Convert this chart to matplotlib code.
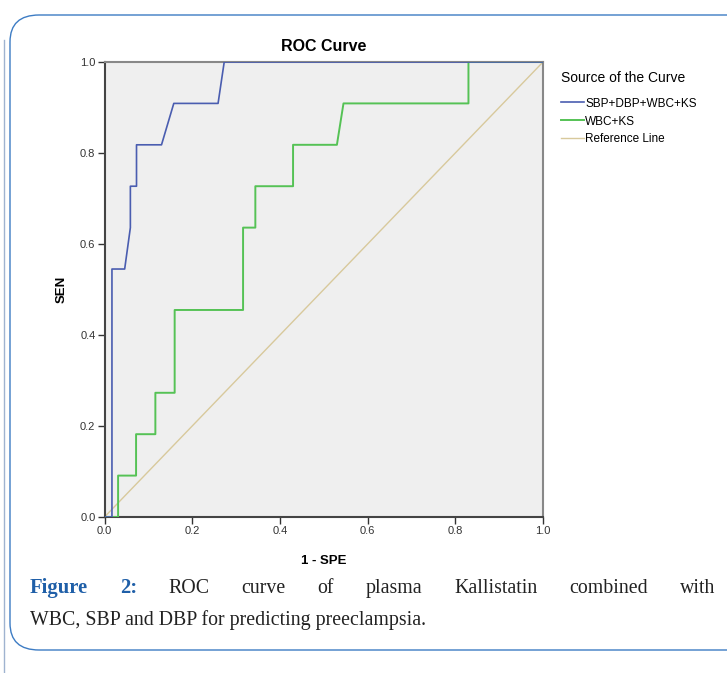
import matplotlib
matplotlib.use("Agg")
import matplotlib.pyplot as plt
from matplotlib.patches import FancyBboxPatch
from matplotlib.lines import Line2D

# ROC points (x = 1 - specificity, y = sensitivity)
combo_x = [0, 0.017, 0.017, 0.046, 0.059, 0.059, 0.073, 0.073, 0.13, 0.158, 0.259, 0.273, 1.0]
combo_y = [0, 0, 0.545, 0.545, 0.636, 0.727, 0.727, 0.818, 0.818, 0.909, 0.909, 1.0, 1.0]

wbc_x = [0, 0.031, 0.031, 0.072, 0.072, 0.116, 0.116, 0.16, 0.16, 0.316, 0.316,
         0.344, 0.344, 0.43, 0.43, 0.53, 0.545, 0.83, 0.83, 1.0]
wbc_y = [0, 0, 0.091, 0.091, 0.182, 0.182, 0.273, 0.273, 0.455, 0.455, 0.636,
         0.636, 0.727, 0.727, 0.818, 0.818, 0.909, 0.909, 1.0, 1.0]

ref_x = [0, 1]
ref_y = [0, 1]

ticks = [0.0, 0.2, 0.4, 0.6, 0.8, 1.0]
tick_labels = ["0.0", "0.2", "0.4", "0.6", "0.8", "1.0"]
series_names = ["SBP+DBP+WBC+KS", "WBC+KS", "Reference Line"]

BLUE = "#4a5db0"
GREEN = "#55c255"
REF = "#d8c99c"

W, H = 727, 673
fig = plt.figure(figsize=(W / 100, H / 100), dpi=100)
fig.patch.set_facecolor("white")

# rounded panel border
border = FancyBboxPatch((10 / W, (H - 650) / H), 760 / W, 635 / H,
                        boxstyle="round,pad=0,rounding_size=0.04",
                        transform=fig.transFigure, fill=False,
                        edgecolor="#3d7cc4", linewidth=1.0)
fig.patches.append(border)
fig.add_artist(Line2D([4 / W, 4 / W], [0.0, (H - 40) / H], transform=fig.transFigure,
                      color="#9fb3d0", linewidth=1.0))

ax = fig.add_axes([104.5 / W, (H - 517) / H, (543 - 104.5) / W, (517 - 62) / H])
ax.set_facecolor("#efefef")

ax.plot(ref_x, ref_y, color=REF, linewidth=1.0, label=series_names[2], zorder=2)
ax.plot(wbc_x, wbc_y, color=GREEN, linewidth=1.4, label=series_names[1], zorder=3)
ax.plot(combo_x, combo_y, color=BLUE, linewidth=1.2, label=series_names[0], zorder=4)

ax.set_xlim(0, 1)
ax.set_ylim(0, 1)
ax.set_xticks(ticks)
ax.set_xticklabels(tick_labels)
ax.set_yticks(ticks)
ax.set_yticklabels(tick_labels)
ax.tick_params(direction="out", length=5, width=1, labelsize=8,
               colors="#333333", pad=1.5)

for side in ["left", "bottom"]:
    ax.spines[side].set_color("#444444")
    ax.spines[side].set_linewidth(1.5)
for side in ["top", "right"]:
    ax.spines[side].set_color("#888888")
    ax.spines[side].set_linewidth(1.5)

font = "Liberation Sans"
ax.set_title("ROC Curve", fontsize=11.5, fontweight="bold", family=font, pad=8)
ax.set_ylabel("SEN", fontsize=9.5, fontweight="bold", family=font, labelpad=9)
ax.set_xlabel("1 - SPE", fontsize=9.5, fontweight="bold", family=font, labelpad=14)
for lab in ax.get_xticklabels() + ax.get_yticklabels():
    lab.set_family(font)

handles, labels = ax.get_legend_handles_labels()
order = [2, 1, 0]
leg = ax.legend([handles[i] for i in order], [labels[i] for i in order],
                title="Source of the Curve", loc="upper left",
                bbox_to_anchor=(1.04, 0.98), frameon=False,
                prop={"family": font, "size": 8.5}, handlelength=2.0,
                handletextpad=0.1, labelspacing=0.5, borderaxespad=0,
                borderpad=0)
leg.get_title().set_family(font)
leg.get_title().set_fontsize(10)
leg._legend_box.align = "left"
leg._legend_box.sep = 9

# caption, first line justified between x=30 and x=715
renderer = fig.canvas.get_renderer()
cap_font = "Liberation Serif"
cap_size = 14.3
line1 = [("Figure", True), ("2:", True), ("ROC", False), ("curve", False), ("of", False),
         ("plasma", False), ("Kallistatin", False), ("combined", False), ("with", False)]
x_left, x_right = 30 / W, 715 / W
words = []
total = 0.0
for w, bold in line1:
    t = fig.text(0, 1 - 593 / H, w, fontsize=cap_size + (0.6 if bold else 0), family=cap_font,
                 fontweight="bold" if bold else "normal",
                 color="#1f5fa8" if bold else "#222222", va="baseline")
    bb = t.get_window_extent(renderer)
    words.append((t, bb.width / W))
    total += bb.width / W
gap = (x_right - x_left - total) / (len(words) - 1)
x = x_left
for t, wdt in words:
    t.set_x(x)
    x += wdt + gap

fig.text(x_left, 1 - 625 / H, "WBC, SBP and DBP for predicting preeclampsia.",
         fontsize=cap_size, family=cap_font, color="#222222", va="baseline")

fig.savefig("out.png", dpi=100)
